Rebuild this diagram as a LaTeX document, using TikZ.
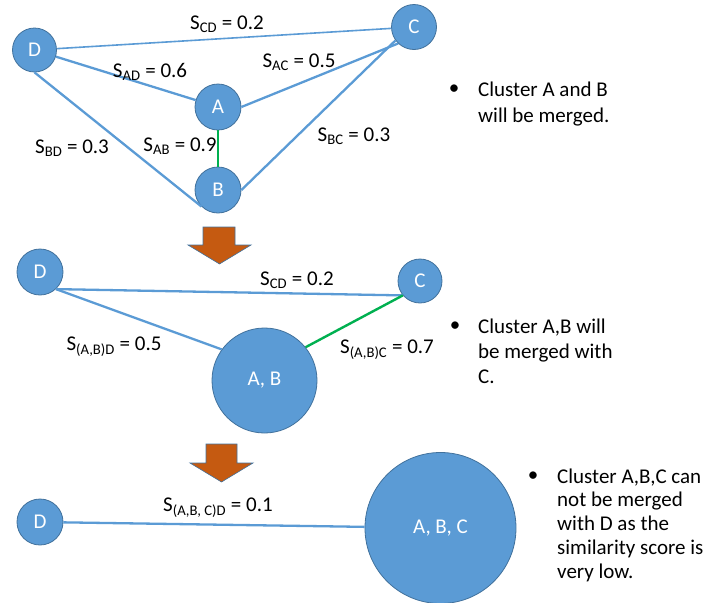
\documentclass[tikz,border=0pt]{standalone}
\usepackage{fontspec}
\setmainfont{Carlito}
\definecolor{nodeblue}{HTML}{5B9BD5}
\definecolor{nodeedge}{HTML}{41719C}
\definecolor{linkblue}{HTML}{5B9BD5}
\definecolor{mergegreen}{HTML}{00B050}
\definecolor{arrowfill}{HTML}{C55A11}
\begin{document}
\begin{tikzpicture}[x=1pt,y=-1pt,
  every node/.style={font=\fontsize{21}{25.5}\selectfont},
  cluster/.style={circle,fill=nodeblue,draw=nodeedge,line width=0.8pt,text=white,inner sep=0pt},
  link/.style={draw=linkblue,line width=2.3pt},
  thinlink/.style={draw=linkblue,line width=1.6pt},
  merge/.style={draw=mergegreen,line width=2.4pt},
  score/.style={inner sep=0pt},
  dot/.style={inner sep=0pt},
  % multi-line notes are placed by the baseline of their last line
  note/.style={anchor=base west,align=left,inner sep=0pt},
  stagearrow/.style={fill=arrowfill,draw=nodeedge,line width=0.6pt,line join=miter}
]
\useasboundingbox (0,0) rectangle (705,603);

% ---------- stage 1: four clusters ----------
\node[cluster,minimum size=44pt] (D1) at (34.5,50) {D};
\node[cluster,minimum size=45pt] (C1) at (414,27) {C};
\node[cluster,minimum size=46pt] (A1) at (218,107) {A};
\node[cluster,minimum size=46pt] (B1) at (218,190) {B};

\draw[thinlink] (D1) -- (C1);
\draw[link] (D1) -- (A1);
\draw[link] (D1.south) -- (B1.225);
\draw[link] (A1.east) -- (C1.226);
\draw[link] (B1.east) -- (C1.216);
\draw[merge] (A1) -- (B1);

\node[score] (sCD1) at (227,24) {S\textsubscript{CD} = 0.2};
\node[score] (sAD1) at (150,72) {S\textsubscript{AD} = 0.6};
\node[score] (sAC1) at (299,62) {S\textsubscript{AC} = 0.5};
\node[score] (sBD1) at (72,148) {S\textsubscript{BD} = 0.3};
\node[score] (sAB1) at (180,146) {S\textsubscript{AB} = 0.9};
\node[score] (sBC1) at (354,136) {S\textsubscript{BC} = 0.3};

\node[dot] (b1) at (454,90) {\textbullet};
\node[note,font=\fontsize{21}{25.5}\selectfont] (n1) at (478,122) {Cluster A and B\\will be merged.};

% ---------- arrow to stage 2 ----------
\draw[stagearrow] (203,227) -- (235,227) -- (235,245) -- (251,245) -- (219.5,264)
  -- (188,245) -- (203,245) -- cycle;

% ---------- stage 2: A and B merged ----------
\node[cluster,minimum size=46pt] (D2) at (40,272) {D};
\node[cluster,minimum size=44pt] (C2) at (420,281) {C};
\node[cluster,minimum size=105pt] (AB2) at (264.5,380.5) {A, B};

\draw[link] (D2.-47) -- (C2.220);
\draw[link] (D2.-47) -- (AB2.144);
\draw[merge] (AB2.39) -- (C2.220);

\node[score] (sCD2) at (297,280) {S\textsubscript{CD} = 0.2};
\node[score] (sABD2) at (114,347) {S\textsubscript{(A,B)D} = 0.5};
\node[score] (sABC2) at (387,350) {S\textsubscript{(A,B)C} = 0.7};

\node[dot] (b2) at (455,327) {\textbullet};
\node[note,font=\fontsize{21}{25}\selectfont] (n2) at (478,383) {Cluster A,B will\\be merged with\\C.};

% ---------- arrow to stage 3 ----------
\draw[stagearrow] (206,444) -- (237,444) -- (237,463) -- (253,463) -- (221.5,482)
  -- (190,463) -- (206,463) -- cycle;

% ---------- stage 3: A, B and C merged ----------
\node[cluster,minimum size=46pt] (D3) at (40,522) {D};
\node[cluster,minimum size=151pt] (ABC3) at (440.5,528) {A, B, C};

\draw[link] (D3) -- (ABC3);

\node[score] (sABCD3) at (218,508) {S\textsubscript{(A,B, C)D} = 0.1};

\node[dot] (b3) at (533,477) {\textbullet};
\node[note,font=\fontsize{21}{23.75}\selectfont] (n3) at (557,578)
  {Cluster A,B,C can\\not be merged\\with D as the\\similarity score is\\very low.};
\end{tikzpicture}
\end{document}
